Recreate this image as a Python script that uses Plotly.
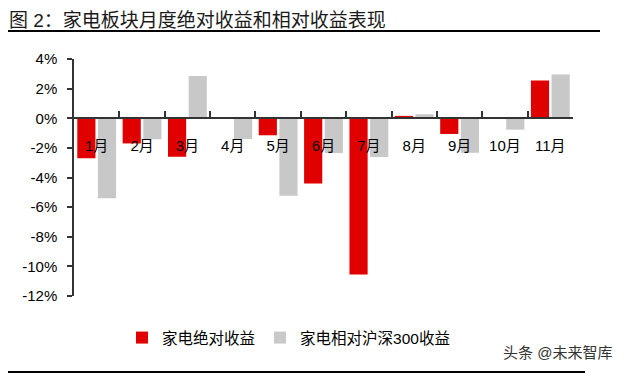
import plotly.graph_objects as go

months = ["1月", "2月", "3月", "4月", "5月", "6月", "7月", "8月", "9月", "10月", "11月"]
absolute = [-2.7, -1.7, -2.6, 0.0, -1.15, -4.4, -10.55, 0.16, -1.06, 0.05, 2.55]
relative = [-5.4, -1.42, 2.85, -1.4, -5.24, -2.35, -2.62, 0.27, -2.33, -0.77, 2.96]
y_ticks = [4, 2, 0, -2, -4, -6, -8, -10, -12]
y_labels = [f"{v}%" for v in y_ticks]
title_text = "图 2：家电板块月度绝对收益和相对收益表现"

FONT = "Arial, 'Liberation Sans', 'Noto Sans CJK SC', sans-serif"
RED = "#E00000"
GREY = "#C8C8C8"

# page has an 8px body margin; figure is sized to fill the rest of the window
OFF = 8
W, H = 640 - OFF, 377 - OFF
PLOT_L, PLOT_R, PLOT_T, PLOT_B = 74, 573, 59, 296  # page coordinates
L, T = PLOT_L - OFF, PLOT_T - OFF
R = 640 - PLOT_R
B = 377 - PLOT_B
PW = PLOT_R - PLOT_L
PH = PLOT_B - PLOT_T


def px_x(px):
    return (px - PLOT_L) / PW


def px_y(py):
    return (PLOT_B - py) / PH


fig = go.Figure()
fig.add_trace(go.Bar(x=months, y=absolute, name="家电绝对收益", marker_color=RED, marker_line_width=0))
fig.add_trace(go.Bar(x=months, y=relative, name="家电相对沪深300收益", marker_color=GREY, marker_line_width=0))

fig.update_layout(
    width=W, height=H,
    margin=dict(l=L, r=R, t=T, b=B, pad=0, autoexpand=False),
    paper_bgcolor="white", plot_bgcolor="white",
    font=dict(family=FONT, size=14, color="#000000"),
    barmode="group", bargap=0.09, bargroupgap=0.12,
    legend=dict(orientation="h", x=px_x(122), xanchor="left", y=px_y(338), yanchor="middle",
                font=dict(size=15.5, color="#000000"), itemwidth=30,
                bgcolor="rgba(0,0,0,0)"),
    showlegend=True,
)

fig.add_annotation(text=title_text, xref="paper", yref="paper", x=px_x(8), xanchor="left",
                   y=px_y(8.5), yanchor="top", showarrow=False, borderpad=0,
                   font=dict(size=19, color="#1a1a1a", family=FONT))

fig.update_yaxes(
    range=[-12, 4], tickvals=y_ticks, ticktext=y_labels, automargin=False,
    showline=True, linecolor="#333333", linewidth=1.5,
    ticks="outside", ticklen=5, tickcolor="#333333", tickwidth=1.5,
    showgrid=False, zeroline=False, ticklabelstandoff=7,
    tickfont=dict(size=15, color="#000000"),
)
fig.update_xaxes(
    type="category", anchor="free", position=px_y(118), automargin=False,
    showline=True, linecolor="#333333", linewidth=1.5,
    ticks="inside", tickson="boundaries", ticklen=6, tickcolor="#333333", tickwidth=1.5,
    showgrid=False, zeroline=False, ticklabelstandoff=14,
    tickfont=dict(size=15, color="#000000"),
)

# title underline and bottom rule
fig.add_shape(type="line", xref="paper", yref="paper", x0=px_x(8), x1=px_x(600),
              y0=px_y(31), y1=px_y(31), line=dict(color="#000000", width=2))
fig.add_shape(type="line", xref="paper", yref="paper", x0=px_x(8), x1=px_x(585),
              y0=px_y(372), y1=px_y(372), line=dict(color="#000000", width=2))

fig.add_annotation(text="头条 @未来智库", xref="paper", yref="paper", x=px_x(614), xanchor="right",
                   y=px_y(352), yanchor="middle", showarrow=False,
                   font=dict(size=15, color="#333333", family=FONT))

fig.write_html("out.html")
